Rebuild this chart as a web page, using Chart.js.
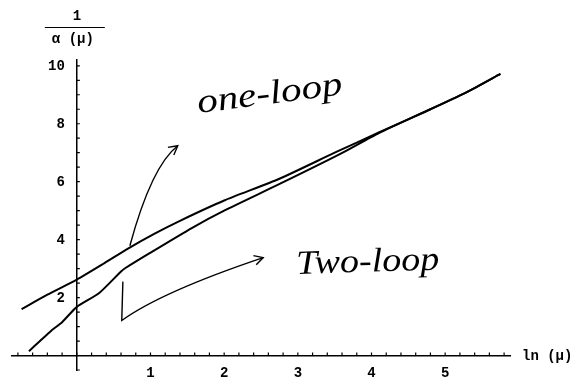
<!DOCTYPE html>
<html>
<head>
<meta charset="utf-8">
<script src="https://cdn.jsdelivr.net/npm/chart.js@4.4.1/dist/chart.umd.min.js"></script>
<style>
html, body { margin: 0; padding: 0; background: #fff; }
#wrap { width: 584px; height: 385px; }
</style>
</head>
<body>
<div id="wrap"><canvas id="chart"></canvas></div>
<script>
// values: x = ln(mu), y = 1/alpha(mu)
const oneLoopX = [-0.75, -0.4, 0, 0.35, 0.7, 1.05, 1.4, 2.0, 2.75, 3.5, 4.1, 4.8, 5.3, 5.75];
const oneLoopY = [1.6, 2.1, 2.62, 3.15, 3.7, 4.2, 4.65, 5.35, 6.1, 7.0, 7.7, 8.5, 9.1, 9.72];

const twoLoopX = [-0.65, -0.5, -0.35, -0.2, 0, 0.3, 0.6, 0.66, 1.0, 1.56, 2.0, 2.76, 3.57, 4.1, 4.8, 5.3, 5.75];
const twoLoopY = [0.15, 0.5, 0.85, 1.15, 1.68, 2.15, 2.9, 3.02, 3.55, 4.4, 5.0, 5.93, 6.95, 7.68, 8.5, 9.1, 9.72];

const xLabels = [1, 2, 3, 4, 5];
const yLabels = [2, 4, 6, 8, 10];

const seriesNames = ['one-loop', 'Two-loop'];

function toPoints(xs, ys) {
    return xs.map((x, i) => ({ x: x, y: ys[i] }));
}

const axisFont = '"Liberation Mono", "DejaVu Sans Mono", monospace';

// ticks, y labels, axis titles and the hand-written notes
const extras = {
    id: 'extras',
    afterDraw(chart) {
        const ctx = chart.ctx;
        const sx = chart.scales.x;
        const sy = chart.scales.y;
        const px = v => sx.getPixelForValue(v);
        const py = v => sy.getPixelForValue(v);
        const x0 = px(0), y0 = py(0);

        ctx.save();
        ctx.strokeStyle = '#000';
        ctx.lineWidth = 1.2;
        ctx.beginPath();
        for (let i = -4; i <= 29; i++) {
            const p = px(i * 0.2);
            ctx.moveTo(p, y0);
            ctx.lineTo(p, y0 - 3);
        }
        for (let i = -1; i <= 20; i++) {
            const p = py(i * 0.5);
            ctx.moveTo(x0, p);
            ctx.lineTo(x0 + 3, p);
        }
        ctx.stroke();

        ctx.fillStyle = '#000';
        ctx.font = 'bold 14px ' + axisFont;
        ctx.textBaseline = 'middle';
        ctx.textAlign = 'right';
        yLabels.forEach(v => ctx.fillText(String(v), x0 - 12, py(v) + 1));

        // axis titles
        ctx.textAlign = 'left';
        ctx.fillText('ln (\u03BC)', sx.right + 12, y0 + 1);
        ctx.textAlign = 'center';
        ctx.fillText('1', x0, 16);
        ctx.fillText('\u03B1 (\u03BC)', x0 - 4, 39);
        ctx.lineWidth = 1.2;
        ctx.beginPath();
        ctx.moveTo(x0 - 32, 27.5);
        ctx.lineTo(x0 + 28, 27.5);
        ctx.stroke();

        // hand-written labels
        const note = (text, x, y, angle, width) => {
            ctx.save();
            ctx.translate(px(x), py(y));
            ctx.rotate(angle);
            ctx.font = 'italic 34px "Liberation Serif", serif';
            const w = ctx.measureText(text).width;
            ctx.scale(width / w, 1);
            ctx.textAlign = 'center';
            ctx.textBaseline = 'middle';
            ctx.fillText(text, 0, 0);
            ctx.restore();
        };
        note(seriesNames[0], 2.62, 9.0, -0.13, 146);
        note(seriesNames[1], 3.95, 3.2, -0.03, 143);

        const head = (tipX, tipY, fromX, fromY) => {
            const a = Math.atan2(tipY - fromY, tipX - fromX);
            ctx.beginPath();
            ctx.moveTo(tipX - 10 * Math.cos(a - 0.5), tipY - 10 * Math.sin(a - 0.5));
            ctx.lineTo(tipX, tipY);
            ctx.lineTo(tipX - 10 * Math.cos(a + 0.5), tipY - 10 * Math.sin(a + 0.5));
            ctx.stroke();
        };

        ctx.lineWidth = 1.4;
        ctx.beginPath();
        ctx.moveTo(px(0.72), py(3.79));
        ctx.quadraticCurveTo(px(1.015), py(6.545), px(1.37), py(7.24));
        ctx.stroke();
        head(px(1.37), py(7.24), px(1.2), py(6.9));

        ctx.beginPath();
        ctx.moveTo(px(0.625), py(2.55));
        ctx.lineTo(px(0.61), py(1.21));
        ctx.quadraticCurveTo(px(1.15), py(2.2), px(2.53), py(3.38));
        ctx.stroke();
        head(px(2.53), py(3.38), px(2.3), py(3.2));
        ctx.restore();
    }
};

new Chart(document.getElementById('chart'), {
    type: 'scatter',
    data: {
        datasets: [
            {
                label: seriesNames[0],
                data: toPoints(oneLoopX, oneLoopY),
                showLine: true,
                borderColor: '#000',
                borderWidth: 2,
                pointRadius: 0,
                tension: 0.2
            },
            {
                label: seriesNames[1],
                data: toPoints(twoLoopX, twoLoopY),
                showLine: true,
                borderColor: '#000',
                borderWidth: 2,
                pointRadius: 0,
                tension: 0.2
            }
        ]
    },
    options: {
        responsive: true,
        maintainAspectRatio: false,
        animation: false,
        layout: { padding: { left: 12, right: 74, top: 60, bottom: 15 } },
        plugins: {
            legend: { display: false },
            tooltip: { enabled: false }
        },
        scales: {
            x: {
                type: 'linear',
                min: -0.88,
                max: 5.88,
                position: { y: 0 },
                grid: { display: false },
                border: { display: true, color: '#000', width: 1.5 },
                afterBuildTicks: axis => { axis.ticks = xLabels.map(v => ({ value: v })); },
                ticks: {
                    autoSkip: false,
                    maxRotation: 0,
                    padding: 2,
                    color: '#000',
                    font: { family: axisFont, size: 14, weight: 'bold' }
                }
            },
            y: {
                type: 'linear',
                min: -0.5,
                max: 10.2,
                position: { x: 0 },
                grid: { display: false },
                border: { display: true, color: '#000', width: 1.5 },
                ticks: { display: false }
            }
        }
    },
    plugins: [extras]
});
</script>
</body>
</html>
